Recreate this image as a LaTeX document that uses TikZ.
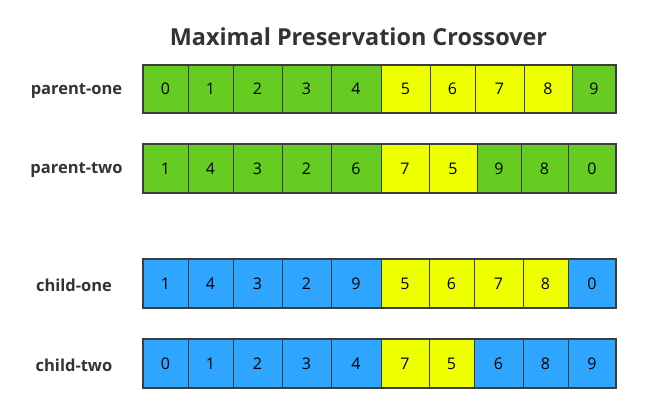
\documentclass[tikz,border=0pt]{standalone}
\usepackage{fontspec}
\setmainfont{Open Sans}
\usetikzlibrary{calc}

\definecolor{gene}{RGB}{102,204,34}
\definecolor{keep}{RGB}{238,255,0}
\definecolor{kid}{RGB}{46,166,255}
\definecolor{edge}{RGB}{60,60,60}
\definecolor{ink}{RGB}{51,51,51}

\begin{document}
\begin{tikzpicture}[x=1pt,y=-1pt,
  cell/.style={draw=edge,line width=0.8pt,inner sep=0pt,outer sep=0pt,minimum height=48.5pt,font=\fontsize{16}{16}\selectfont,text=black},
  rowname/.style={font=\bfseries\fontsize{16.5}{16.5}\selectfont,text=ink},
  frame/.style={draw=edge,line width=1.8pt}]
  \useasboundingbox (0,0) rectangle (646,405);
  \node[font=\bfseries\fontsize{23.4}{23.4}\selectfont,text=ink] (title) at (358.5,37) {Maximal Preservation Crossover};
  % parents
  \node[rowname] (pone) at (76.5,91) {parent-one};
  \node[rowname] (ptwo) at (76.5,170.5) {parent-two};
  \foreach \a/\b/\v/\c [count=\i] in {143/188/0/gene,188/233/1/gene,233/282/2/gene,282/331/3/gene,331/381/4/gene,
    381/430/5/keep,430/475/6/keep,475/524/7/keep,524/572/8/keep,572/616/9/gene}
    \node[cell,fill=\c,minimum width={\b-\a}] (p1-\i) at ({(\a+\b)/2},89) {\v};
  \foreach \a/\b/\v/\c [count=\i] in {143/188/1/gene,188/233/4/gene,233/282/3/gene,282/331/2/gene,331/381/6/gene,
    381/429/7/keep,429/477/5/keep,477/521/9/gene,521/568/8/gene,568/616/0/gene}
    \node[cell,fill=\c,minimum width={\b-\a}] (p2-\i) at ({(\a+\b)/2},168.5) {\v};
  % children
  \node[rowname] (cone) at (74,285.5) {child-one};
  \node[rowname] (ctwo) at (74,365.5) {child-two};
  \foreach \a/\b/\v/\c [count=\i] in {143/188/1/kid,188/233/4/kid,233/282/3/kid,282/331/2/kid,331/381/9/kid,
    381/429/5/keep,429/474/6/keep,474/523/7/keep,523/568/8/keep,568/616/0/kid}
    \node[cell,fill=\c,minimum width={\b-\a}] (c1-\i) at ({(\a+\b)/2},283.5) {\v};
  \foreach \a/\b/\v/\c [count=\i] in {143/188/0/kid,188/233/1/kid,233/282/2/kid,282/331/3/kid,331/381/4/kid,
    381/429/7/keep,429/474/5/keep,474/523/6/kid,523/568/8/kid,568/616/9/kid}
    \node[cell,fill=\c,minimum width={\b-\a}] (c2-\i) at ({(\a+\b)/2},363.5) {\v};
  \foreach \r in {p1,p2,c1,c2}
    \draw[frame] (\r-1.north west) rectangle (\r-10.south east);
\end{tikzpicture}
\end{document}
